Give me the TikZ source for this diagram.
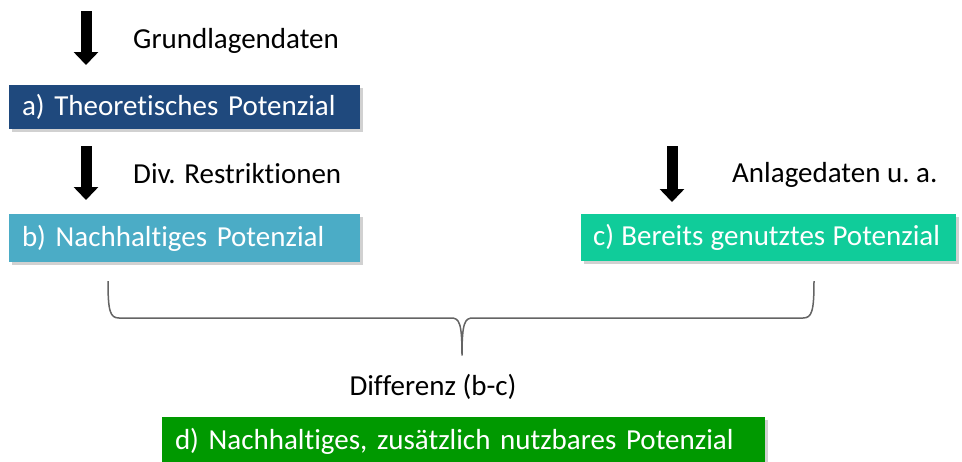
\documentclass[tikz,border=0pt]{standalone}
\usepackage{fontspec}
\setmainfont{Carlito}[Ligatures=NoCommon]
\usetikzlibrary{arrows.meta,shadows}
\definecolor{boxA}{RGB}{31,73,125}
\definecolor{boxB}{RGB}{75,172,198}
\definecolor{boxC}{RGB}{16,204,154}
\definecolor{boxD}{RGB}{0,153,0}
\definecolor{braceGray}{RGB}{100,100,100}
\tikzset{
  potbox/.style={draw=none, text=white, inner xsep=13pt, inner ysep=0pt, align=left,
    font=\fontsize{29}{34}\selectfont,
    drop shadow={shadow xshift=3pt, shadow yshift=-3pt, opacity=0.18, fill=black}},
  lbl/.style={anchor=base west, inner sep=0pt, font=\fontsize{29}{34}\selectfont},
  blockarrow/.style={line width=11pt, -{Triangle[width=24pt,length=13pt]}},
  bracestyle/.style={draw=braceGray, line width=1.5pt, line join=round}
}
\begin{document}
\begin{tikzpicture}[x=1pt,y=-1pt]
\useasboundingbox[fill=white] (0,0) rectangle (962,461);
% boxes
\node[potbox, fill=boxA, text width=325pt, minimum height=44pt] (a) at (184.5,107) {\mbox{a) Theoretisches Potenzial}};
\node[potbox, fill=boxB, text width=325pt, minimum height=48pt] (b) at (184.5,238) {\mbox{b) Nachhaltiges Potenzial}};
\node[potbox, fill=boxC, text width=351pt, inner xsep=12pt, minimum height=47pt] (c) at (768.5,237.5) {\spaceskip=0.25em\relax\mbox{c) Bereits genutztes Potenzial}};
\node[potbox, fill=boxD, text width=577pt, minimum height=48pt] (d) at (463.5,441) {\mbox{d) Nachhaltiges, zusätzlich nutzbares Potenzial}};
% labels
\node[lbl] (l1) at (133,48) {Grundlagendaten};
\node[lbl] (l2) at (133,183) {Div. Restriktionen};
\node[lbl] (l3) at (732,182) {Anlagedaten u.\ a.};
\node[lbl, anchor=base] (diff) at (433,395) {Differenz (b-c)};
% arrows
\coordinate (a1s) at (86,11);
\coordinate (a1e) at (86,65);
\coordinate (a2s) at (86,146);
\coordinate (a2e) at (86,200);
\coordinate (a3s) at (672,146);
\coordinate (a3e) at (672,202);
\draw[blockarrow] (a1s) -- (a1e);
\draw[blockarrow] (a2s) -- (a2e);
\draw[blockarrow] (a3s) -- (a3e);
% brace
\coordinate (brL) at (108,281);
\coordinate (brR) at (814,281);
\coordinate (brT) at (462,355);
\draw[bracestyle] (brL) .. controls (108,311) and (110,318) .. (119,318)
  -- (451,318) .. controls (459,318) and (462,322) .. (brT)
  .. controls (462,322) and (465,318) .. (473,318)
  -- (803,318) .. controls (812,318) and (814,311) .. (brR);
\end{tikzpicture}
\end{document}
